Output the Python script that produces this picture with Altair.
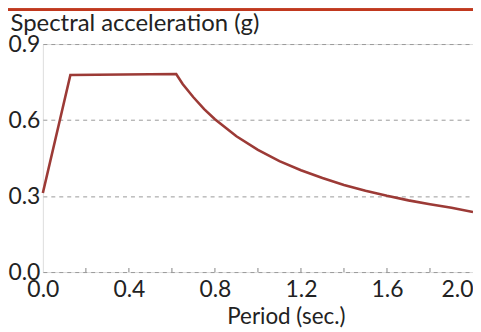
import altair as alt
import pandas as pd

period = [0.0, 0.128, 0.62, 0.65, 0.7, 0.75, 0.8, 0.9, 1.0, 1.1, 1.2, 1.3, 1.4, 1.5, 1.6, 1.7, 1.8, 1.9, 2.0]
accel = [0.312, 0.778, 0.782, 0.742, 0.69, 0.643, 0.603, 0.536, 0.482, 0.438, 0.402, 0.371, 0.344, 0.321, 0.301, 0.283, 0.268, 0.254, 0.237]
x_ticks = [0.0, 0.4, 0.8, 1.2, 1.6, 2.0]
y_ticks = [0.0, 0.3, 0.6, 0.9]
minor_ticks = [0.2, 0.4, 0.6, 0.8, 1.0, 1.2, 1.4, 1.6, 1.8]

FONT = "Lato"
W, H = 432, 229

df = pd.DataFrame({"T": period, "Sa": accel})
tick_df = pd.DataFrame({"T": minor_ticks})

line = alt.Chart(df).mark_line(color="#9c3a36", strokeWidth=2.6).encode(
    x=alt.X("T:Q", scale=alt.Scale(domain=[0, 2], nice=False),
            axis=alt.Axis(values=x_ticks, format=".1f", title="Period (sec.)",
                          domain=False, ticks=False, grid=False,
                          labelFont=FONT, labelFontSize=23, labelColor="#222",
                          labelPadding=7,
                          labelAlign={"condition": {"test": "datum.value == 2", "value": "right"}, "value": "center"},
                          titleFont=FONT, titleFontSize=22.5, titleFontWeight="normal",
                          titleColor="#222", titleX=244, titleY=52, titleBaseline="alphabetic",
                          titleAlign="center")),
    y=alt.Y("Sa:Q", scale=alt.Scale(domain=[0, 0.9], nice=False),
            axis=alt.Axis(values=y_ticks, format=".1f", title="Spectral acceleration (g)",
                          domain=False, ticks=False, grid=True,
                          gridColor="#999", gridDash=[4, 4], gridWidth=1,
                          labelFont=FONT, labelFontSize=23, labelColor="#222",
                          labelPadding=3, labelBaseline="middle",
                          titleFont=FONT, titleFontSize=24, titleFontWeight="normal",
                          titleColor="#222", titleAngle=0, titleAlign="left",
                          titleBaseline="alphabetic", titleX=-33, titleY=-14)),
)

ticks = alt.Chart(tick_df).mark_rule(color="#999", strokeWidth=1.2).encode(
    x="T:Q", y=alt.value(H), y2=alt.value(H - 4)
)

top_rule = alt.Chart(tick_df).mark_rule(color="#c0391f", strokeWidth=2).encode(
    x=alt.value(-35), x2=alt.value(432), y=alt.value(-34.5)
)

chart = alt.layer(ticks, line, top_rule).properties(
    width=W, height=H,
    autosize=alt.AutoSizeParams(type="none"),
    padding={"left": 35, "top": 35.5, "right": 0, "bottom": 58},
).configure_view(stroke="#a8a8a8", strokeWidth=1.5).configure(background="white")

chart.save("out.html", embed_options={"renderer": "svg", "actions": False})
